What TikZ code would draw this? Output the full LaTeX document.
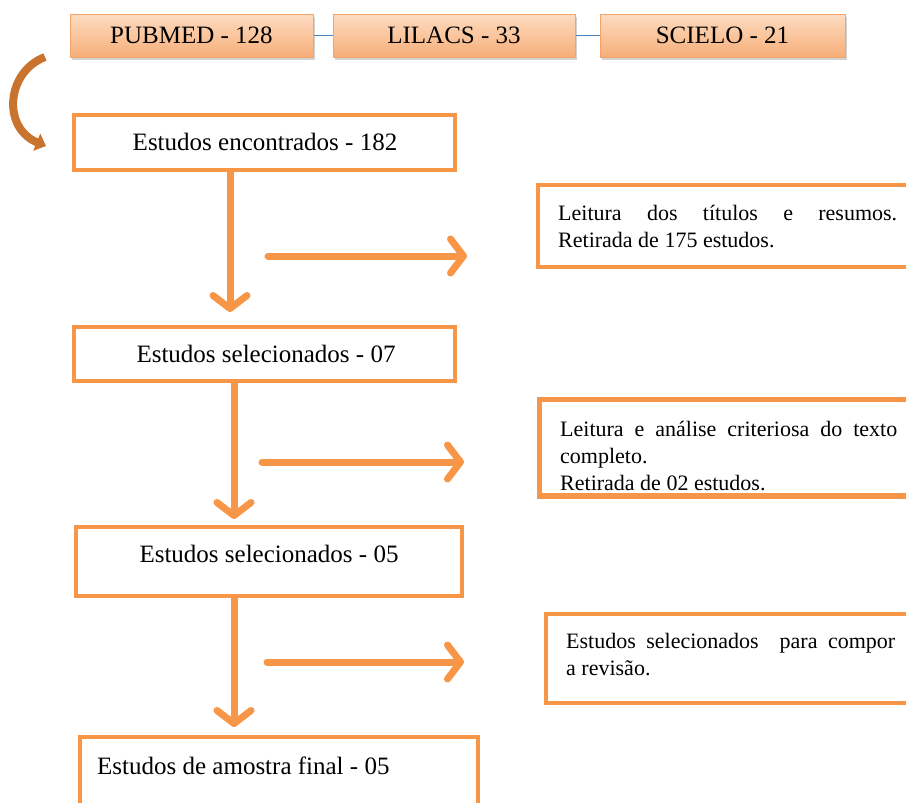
\documentclass[tikz,border=0pt]{standalone}
\usepackage{fontspec}
\setmainfont{Liberation Serif}
\usetikzlibrary{arrows.meta,shadows}
\definecolor{orng}{HTML}{F79646}
\definecolor{peachtop}{HTML}{FDDCC2}
\definecolor{peachbot}{HTML}{F7AE78}
\definecolor{peachline}{HTML}{F4A46A}
\definecolor{linkblue}{HTML}{4F81BD}
\definecolor{curvbrown}{HTML}{C8732E}
\begin{document}
\begin{tikzpicture}[x=1pt,y=-1pt,
  topbox/.style={draw=peachline, line width=1pt, top color=peachtop, bottom color=peachbot,
    minimum height=43pt, inner sep=0pt, font=\fontsize{25}{28}\selectfont,
    drop shadow={shadow xshift=1.5pt, shadow yshift=-2.5pt, opacity=0.35}},
  mainbox/.style={draw=orng, line width=3.5pt, fill=white, inner sep=0pt},
  boxline/.style={draw=orng, line width=3.5pt},
  maintext/.style={font=\fontsize{25}{28}\selectfont, inner sep=0pt},
  sidetext/.style={font=\fontsize{22}{27}\selectfont, inner sep=0pt, align=left, anchor=north west},
  flow/.style={draw=orng, line width=7pt, line cap=round,
    -{Straight Barb[length=13pt,width=34pt,line cap=round,line join=round]}},
  link/.style={draw=linkblue, line width=1.4pt},
  curv/.style={draw=curvbrown, line width=8pt, -{Triangle[length=10pt,width=18pt]}}
]
\useasboundingbox (0,0) rectangle (906,803);
\clip (0,0) rectangle (906,803);

% top database boxes
\node[topbox, minimum width=243pt] (pub) at (191.5,35.5) {PUBMED - 128};
\node[topbox, minimum width=242pt] (lil) at (454,35.5) {LILACS - 33};
\node[topbox, minimum width=245pt] (sci) at (722.5,35.5) {SCIELO - 21};
\draw[link] (pub.east) -- (lil.west);
\draw[link] (lil.east) -- (sci.west);

% curved arrow
\coordinate (ca) at (45,57);
\coordinate (cb) at (46,146);
\draw[curv] (ca) .. controls (6,72) and (2,128) .. (cb);

% main boxes
\node[mainbox, minimum width=381pt, minimum height=55pt] (b1) at (264.5,142.5) {};
\node[maintext] (b1t) at (265,142) {Estudos encontrados - 182};

\node[mainbox, minimum width=381pt, minimum height=54pt] (b2) at (264.5,354) {};
\node[maintext] (b2t) at (266,354) {Estudos selecionados - 07};

\node[mainbox, minimum width=386pt, minimum height=69pt] (b3) at (269,561.5) {};
\node[maintext] (b3t) at (269,554) {Estudos selecionados - 05};

\node[mainbox, minimum width=398pt, minimum height=100pt] (b4) at (279,787) {};
\node[maintext, anchor=west] (b4t) at (97,766) {Estudos de amostra final - 05};

% right boxes
\node[mainbox, minimum width=440pt, minimum height=82pt] (r1) at (758,226) {};
\node[sidetext] (r1t) at (558,205) {\makebox[339pt][s]{Leitura dos títulos e resumos.}\\Retirada de 175 estudos.};

\node[mainbox, minimum width=440pt, minimum height=95pt] (r2) at (760,447.5) {};
\begin{scope}
\clip (545,403) rectangle (906,490);
\node[sidetext] (r2t) at (560,421) {\makebox[337pt][s]{Leitura e análise criteriosa do texto}\\completo.\\Retirada de 02 estudos.};
\end{scope}
\draw[boxline] (r2.north west) rectangle (r2.south east);

\node[mainbox, minimum width=440pt, minimum height=89pt] (r3) at (766,658.5) {};
\node[sidetext] (r3t) at (566,633) {\makebox[329pt][s]{Estudos selecionados \ para compor}\\a revisão.};

% vertical flow arrows
\coordinate (v1e) at (230,312);
\coordinate (v2e) at (234,519);
\coordinate (v3e) at (234,727);
\draw[flow] (b1.south -| v1e) -- (v1e);
\draw[flow] (b2.south -| v2e) -- (v2e);
\draw[flow] (b3.south -| v3e) -- (v3e);

% horizontal flow arrows
\coordinate (h1s) at (268,256); \coordinate (h1e) at (467,256);
\coordinate (h2s) at (262,462); \coordinate (h2e) at (464,462);
\coordinate (h3s) at (267,662); \coordinate (h3e) at (464,662);
\draw[flow] (h1s) -- (h1e);
\draw[flow] (h2s) -- (h2e);
\draw[flow] (h3s) -- (h3e);
\end{tikzpicture}
\end{document}
